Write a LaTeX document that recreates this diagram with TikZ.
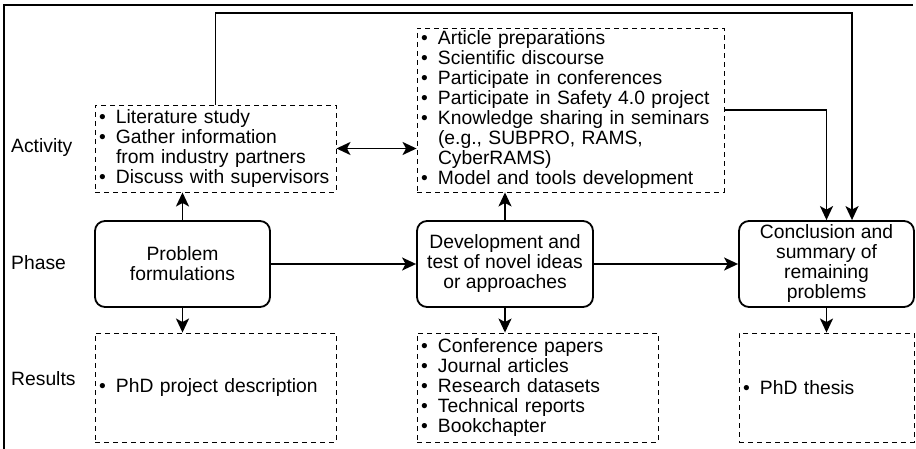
\documentclass[tikz,border=0pt]{standalone}
\usepackage{fontspec}
\setmainfont{Liberation Sans}
\usetikzlibrary{arrows.meta}

% bullet list helpers
\newcommand\bulitem{\makebox[17pt][l]{\textbullet}}
\newcommand\bulcont{\hspace*{17pt}}

\begin{document}
\begin{tikzpicture}[x=1pt,y=-1pt,
  every node/.style={font=\fontsize{19.3}{20}\selectfont},
  dbox/.style 2 args={draw, dash pattern=on 5pt off 4pt, line width=0.9pt,
    inner xsep=4pt, inner ysep=0pt, text width=#1, minimum height=#2, align=left},
  phasebox/.style 2 args={draw, line width=1.8pt, rounded corners=10pt,
    minimum width=#1, minimum height=#2, inner sep=0pt, align=center},
  rowlabel/.style={anchor=west, inner sep=0pt},
  conn/.style={line width=1.8pt, -{Stealth[length=14pt,width=13pt,inset=3.5pt]}},
  dconn/.style={line width=1.8pt, {Stealth[length=14pt,width=13pt,inset=3.5pt]}-{Stealth[length=14pt,width=13pt,inset=3.5pt]}}
]
\useasboundingbox (0,0) rectangle (916,449);

% frame
\draw[line width=1.5pt] (4,449) -- (4,5) -- (913,5);

% row labels
\node[rowlabel] (lact) at (11,148) {Activity};
\node[rowlabel] (lpha) at (11,263) {Phase};
\node[rowlabel] (lres) at (11,379) {Results};

% activity boxes
\node[dbox={233pt}{87pt}] (act1) at (215.5,148.5) {%
  \bulitem Literature study\\
  \bulitem Gather information\\
  \bulcont from industry partners\\
  \bulitem Discuss with supervisors};
\node[dbox={299pt}{164pt}] (act2) at (570.5,110) {%
  \bulitem Article preparations\\
  \bulitem Scientific discourse\\
  \bulitem Participate in conferences\\
  \bulitem Participate in Safety 4.0 project\\
  \bulitem Knowledge sharing in seminars\\
  \bulcont (e.g., SUBPRO, RAMS,\\
  \bulcont CyberRAMS)\\
  \bulitem Model and tools development};

% phase boxes
\node[phasebox={175pt}{86pt}] (ph1) at (182.5,264) {Problem\\formulations};
\node[phasebox={176pt}{86pt}] (ph2) at (505,264) {Development and\\test of novel ideas\\or approaches};
\node[phasebox={175pt}{86pt}] (ph3) at (826.5,264) {Conclusion and\\summary of\\remaining\\problems};

% result boxes
\node[dbox={233pt}{109pt}] (res1) at (215.5,387.5) {\bulitem PhD project description};
\node[dbox={233pt}{109pt}] (res2) at (537.5,387.5) {%
  \bulitem Conference papers\\
  \bulitem Journal articles\\
  \bulitem Research datasets\\
  \bulitem Technical reports\\
  \bulitem Bookchapter};
\node[dbox={167pt}{109pt}] (res3) at (826.5,387.5) {\bulitem PhD thesis};

% connectors
\coordinate (top) at (852,13);
\draw[conn] (act1.north) |- (top) -- (top |- ph3.north);
\draw[conn] (act2.east) -| (ph3.north);
\draw[dconn] (act1.east) -- (act1.east -| act2.west);

\draw[conn] (ph1.east) -- (ph2.west);
\draw[conn] (ph2.east) -- (ph3.west);

\draw[conn] (ph1.north) -- (ph1.north |- act1.south);
\draw[conn] (ph2.north) -- (ph2.north |- act2.south);

\draw[conn] (ph1.south) -- (ph1.south |- res1.north);
\draw[conn] (ph2.south) -- (ph2.south |- res2.north);
\draw[conn] (ph3.south) -- (ph3.south |- res3.north);
\end{tikzpicture}
\end{document}
